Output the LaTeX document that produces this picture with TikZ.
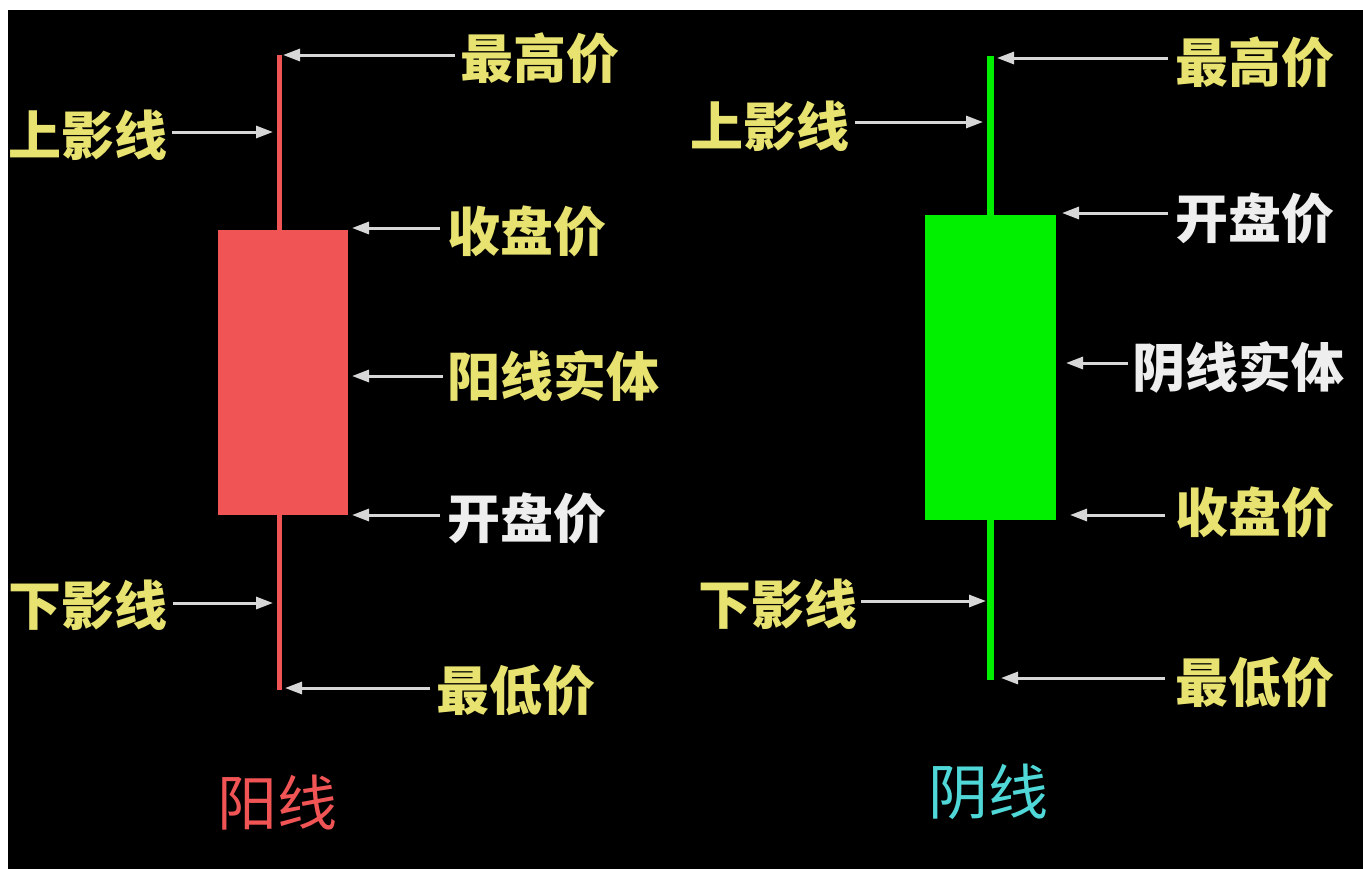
\documentclass[tikz,border=0pt]{standalone}
\usepackage{fontspec}
\newfontfamily\cjk{Noto Sans CJK SC}
\usetikzlibrary{arrows.meta}
\definecolor{labyel}{RGB}{232,226,112}
\definecolor{labwht}{RGB}{238,238,238}
\definecolor{arrgrey}{RGB}{215,215,215}
\definecolor{upred}{RGB}{240,84,84}
\definecolor{downgreen}{RGB}{0,240,0}
\definecolor{yinlbl}{RGB}{80,215,215}
\tikzset{
  lab/.style={font=\cjk\bfseries\fontsize{53}{56}\selectfont, inner sep=0pt, anchor=west},
  yl/.style={lab, text=labyel},
  wl/.style={lab, text=labwht},
  arr/.style={draw=arrgrey, line width=3pt, -{Triangle[length=17pt,width=12pt]}},
  title/.style={font=\cjk\fontsize{60}{64}\selectfont, inner sep=0pt},
}
\begin{document}
\begin{tikzpicture}[x=1pt,y=-1pt]
\useasboundingbox (0,0) rectangle (1363,868);
\fill[white] (-5,-5) rectangle (1375,880);
\fill[black] (8,10) rectangle (1375,880);

% ---------- left candle (yang) ----------
\coordinate (lhi) at (279,55);
\coordinate (llo) at (279,690);
\draw[upred, line width=5pt] (lhi) -- (llo);
\node[fill=upred, minimum width=130pt, minimum height=285pt, inner sep=0pt, anchor=north west] (lbody) at (218,230) {};

\node[yl] (l1) at (460,58) {最高价};
\node[yl] (l2) at (8,135) {上影线};
\node[yl] (l3) at (447,231) {收盘价};
\node[yl] (l4) at (447,376) {阳线实体};
\node[wl] (l5) at (447,518) {开盘价};
\node[yl] (l6) at (8,605) {下影线};
\node[yl] (l7) at (436,690) {最低价};

\coordinate (lt1) at (283,55);
\coordinate (lt2) at (273,132);
\coordinate (lt3) at (352,228);
\coordinate (lt4) at (352,376);
\coordinate (lt5) at (352,515);
\coordinate (lt6) at (273,603);
\coordinate (lt7) at (285,688);

\draw[arr] (455,55) -- (lt1);
\draw[arr] (l2.east) ++(5,-3) -- (lt2);
\draw[arr] (440,228) -- (lt3);
\draw[arr] (443,376) -- (lt4);
\draw[arr] (440,515) -- (lt5);
\draw[arr] (l6.east) ++(6,-2) -- (lt6);
\draw[arr] (430,688) -- (lt7);

\node[title, text=upred] (ltitle) at (277,803) {阳线};

% ---------- right candle (yin) ----------
\coordinate (rhi) at (990,56);
\coordinate (rlo) at (990,680);
\draw[downgreen, line width=7pt] (rhi) -- (rlo);
\node[fill=downgreen, minimum width=131pt, minimum height=305pt, inner sep=0pt, anchor=north west] (rbody) at (925,215) {};

\node[yl] (r1) at (1175,62) {最高价};
\node[yl] (r2) at (690,126) {上影线};
\node[wl] (r3) at (1175,218) {开盘价};
\node[wl] (r4) at (1132,367) {阴线实体};
\node[yl] (r5) at (1175,512) {收盘价};
\node[yl] (r6) at (698,604) {下影线};
\node[yl] (r7) at (1175,682) {最低价};

\coordinate (rt1) at (997,58);
\coordinate (rt2) at (983,122);
\coordinate (rt3) at (1062,213);
\coordinate (rt4) at (1066,363);
\coordinate (rt5) at (1070,515);
\coordinate (rt6) at (986,601);
\coordinate (rt7) at (1001,678);

\draw[arr] (1168,58) -- (rt1);
\draw[arr] (855,122) -- (rt2);
\draw[arr] (1168,213) -- (rt3);
\draw[arr] (1128,363) -- (rt4);
\draw[arr] (1165,515) -- (rt5);
\draw[arr] (861,601) -- (rt6);
\draw[arr] (1165,678) -- (rt7);

\node[title, text=yinlbl] (rtitle) at (988,792) {阴线};
\end{tikzpicture}
\end{document}
